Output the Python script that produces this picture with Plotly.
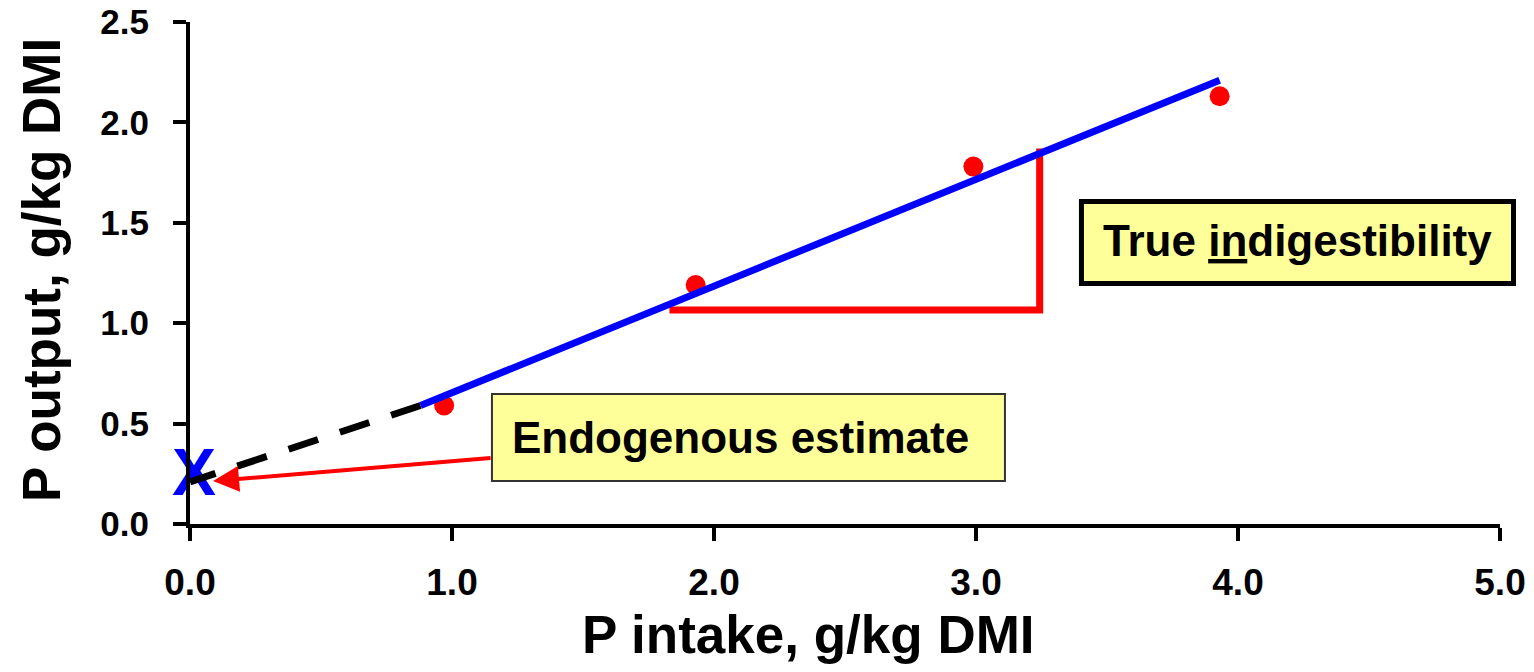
import plotly.graph_objects as go

# Data
intake = [0.97, 1.93, 2.99, 3.93]          # P intake, g/kg DMI
output = [0.59, 1.19, 1.78, 2.13]          # P output, g/kg DMI

fit_x = [0.88, 3.93]                       # fitted regression line (solid)
fit_y = [0.59, 2.21]
ext_x = [0.88, 0.0]                        # extrapolation to intercept (dashed)
ext_y = [0.59, 0.21]
tri_x = [1.83, 3.243, 3.243]               # slope triangle
tri_y = [1.066, 1.066, 1.87]
icpt_x = [0.015]                           # intercept marker "X"
icpt_y = [0.225]

x_ticks = [0, 1, 2, 3, 4, 5]
x_ticklabels = ["0.0", "1.0", "2.0", "3.0", "4.0", "5.0"]
y_ticks = [0, 0.5, 1.0, 1.5, 2.0, 2.5]
y_ticklabels = ["0.0", "0.5", "1.0", "1.5", "2.0", "2.5"]

BOLD = "Liberation Sans"

fig = go.Figure()

fig.add_trace(go.Scatter(x=icpt_x, y=icpt_y, mode="text", text=["X"],
                         textfont=dict(family=BOLD, size=66, color="#0000FF", weight="bold"),
                         textposition="middle center", cliponaxis=False, showlegend=False))
fig.add_trace(go.Scatter(x=ext_x, y=ext_y, mode="lines",
                         line=dict(color="black", width=7, dash="31px,23px"), showlegend=False))
fig.add_trace(go.Scatter(x=tri_x, y=tri_y, mode="lines",
                         line=dict(color="#FF0000", width=7), showlegend=False))
fig.add_trace(go.Scatter(x=intake, y=output, mode="markers",
                         marker=dict(color="#FF0000", size=20), cliponaxis=False, showlegend=False))
fig.add_trace(go.Scatter(x=fit_x, y=fit_y, mode="lines",
                         line=dict(color="#0000FF", width=7), showlegend=False))

# Boxes
fig.add_shape(type="rect", xref="paper", yref="paper", x0=0.6805, x1=1.0103, y0=0.4791, y1=0.6424,
              fillcolor="#FFFF99", line=dict(color="black", width=5), layer="above")
fig.add_shape(type="rect", xref="paper", yref="paper", x0=0.2305, x1=0.6221, y0=0.0857, y1=0.259,
              fillcolor="#FFFF99", line=dict(color="#333333", width=2), layer="above")

fig.add_annotation(xref="paper", yref="paper", x=0.8458, y=0.5657, text="<b>True <u>in</u>digestibility</b>",
                   showarrow=False, font=dict(family=BOLD, size=44, color="black"),
                   xanchor="center", yanchor="middle")
fig.add_annotation(xref="paper", yref="paper", x=0.4206, y=0.1733, text="<b>Endogenous estimate</b>",
                   showarrow=False, font=dict(family=BOLD, size=44, color="black"),
                   xanchor="center", yanchor="middle")

# Red arrow pointing at the intercept
fig.add_annotation(x=0.088, y=0.214, ax=1.153, ay=0.329, axref="x", ayref="y", xref="x", yref="y",
                   text="", showarrow=True, arrowhead=2, arrowsize=1.3, arrowwidth=4,
                   arrowcolor="#FF0000", standoff=0)

# Axis titles
fig.add_annotation(xref="paper", yref="paper", x=0.4718, y=-0.221, text="<b>P intake, g/kg DMI</b>",
                   showarrow=False, font=dict(family=BOLD, size=53, color="black"),
                   xanchor="center", yanchor="middle")
fig.add_annotation(xref="paper", yref="paper", x=-0.113, y=0.506, text="<b>P output, g/kg DMI</b>",
                   showarrow=False, font=dict(family=BOLD, size=53, color="black"),
                   textangle=-90, xanchor="center", yanchor="middle")

fig.update_layout(
    width=1534, height=672, autosize=False,
    margin=dict(l=190, r=34, t=22, b=148, autoexpand=False),
    paper_bgcolor="white", plot_bgcolor="white",
    showlegend=False,
    xaxis=dict(range=[0, 5], tickvals=x_ticks, ticktext=x_ticklabels, showgrid=False, zeroline=False,
               showline=True, linecolor="black", linewidth=4, ticks="outside", ticklen=13,
               tickwidth=3.5, tickcolor="black", ticklabelstandoff=10, automargin=False,
               tickfont=dict(family=BOLD, size=37, color="black", weight="bold")),
    yaxis=dict(range=[0, 2.5], tickvals=y_ticks, ticktext=y_ticklabels, showgrid=False, zeroline=False,
               showline=True, linecolor="black", linewidth=4, ticks="outside", ticklen=13,
               tickwidth=3.5, tickcolor="black", ticklabelstandoff=17, automargin=False,
               tickfont=dict(family=BOLD, size=35, color="black", weight="bold")),
)

fig.write_html("out.html", config={"displayModeBar": False},
               post_script="document.body.style.margin='0';document.body.style.overflow='hidden';")
